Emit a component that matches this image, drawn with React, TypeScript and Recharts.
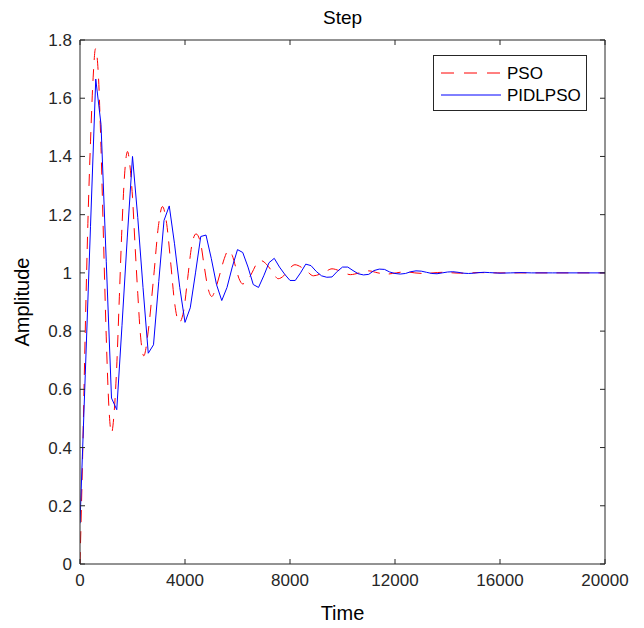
import React from 'react'
import { Label, Legend, Line, LineChart, XAxis, YAxis } from 'recharts'

// PIDLPSO step response (solid blue)
const pidTime = [
  0, 200, 400, 600, 800, 1000, 1200, 1400, 1600, 1800, 2000, 2200, 2400, 2600, 2800, 3000, 3200,
  3400, 3600, 3800, 4000, 4200, 4400, 4600, 4800, 5000, 5200, 5400, 5600, 5800, 6000, 6200, 6400,
  6600, 6800, 7000, 7200, 7400, 7600, 7800, 8000, 8200, 8400, 8600, 8800, 9000, 9200, 9400, 9600,
  9800, 10000, 10200, 10400, 10600, 10800, 11000, 11200, 11400, 11600, 11800, 12000, 12200, 12400,
  12600, 12800, 13000, 13200, 13400, 13600, 13800, 14000, 14200, 14400, 14600, 14800, 15000, 15200,
  15400, 15600, 15800, 16000, 16400, 16800, 17200, 18000, 20000,
]
const pidAmp = [
  0.14, 0.65, 1.16, 1.666, 1.51, 1.04, 0.57, 0.53, 0.82, 1.12, 1.4, 1.19, 0.95, 0.724, 0.753, 0.97, 1.18,
  1.23, 1.1, 0.95, 0.83, 0.88, 1.0, 1.125, 1.13, 1.05, 0.96, 0.905, 0.95, 1.02, 1.08, 1.07, 1.02,
  0.96, 0.95, 0.99, 1.035, 1.05, 1.02, 0.995, 0.974, 0.974, 1.0, 1.03, 1.025, 1.005, 0.99, 0.985, 0.986,
  1.005, 1.02, 1.02, 1.008, 0.997, 0.993, 0.995, 1.008, 1.013, 1.012, 1.003, 0.998, 0.996, 0.998,
  1.004, 1.007, 1.006, 1.002, 0.998, 0.997, 1.0, 1.003, 1.004, 1.002, 0.999, 0.998, 0.999, 1.001,
  1.002, 1.001, 1.0, 0.999, 1.0, 1.001, 1.0, 1.0, 1.0,
]

// PSO step response (dashed red)
const psoTime = [
  0, 100, 200, 300, 400, 500, 590, 700, 800, 900, 1000, 1100, 1200, 1300, 1400, 1500, 1600, 1700,
  1810, 1900, 2000, 2100, 2200, 2300, 2430, 2600, 2800, 3000, 3140, 3300, 3460, 3600, 3780, 3950,
  4100, 4250, 4420, 4600, 4720, 4870, 5020, 5180, 5340, 5500, 5650, 5800, 5930, 6060, 6200, 6380,
  6550, 6720, 6900, 7100, 7320, 7550, 7760, 7980, 8190, 8420, 8650, 8890, 9120, 9360, 9600, 9950,
  10300, 10650, 11000, 11350, 11700, 12050, 12400, 12750, 13100, 13450, 13800, 14500, 15200, 15900,
  17000, 20000,
]
const psoAmp = [
  0, 0.37, 0.8, 1.17, 1.45, 1.67, 1.77, 1.68, 1.43, 1.1, 0.78, 0.54, 0.45, 0.52, 0.68, 0.92, 1.16, 1.34,
  1.417, 1.37, 1.26, 1.09, 0.93, 0.79, 0.715, 0.8, 0.98, 1.17, 1.228, 1.17, 1.03, 0.9, 0.83, 0.87,
  0.98, 1.09, 1.134, 1.1, 1.03, 0.95, 0.919, 0.95, 1.0, 1.05, 1.077, 1.06, 1.02, 0.98, 0.962, 0.975,
  1.0, 1.03, 1.042, 1.03, 1.005, 0.98, 0.99, 1.015, 1.028, 1.02, 1.005, 0.99, 0.995, 1.005, 1.014, 1.005,
  0.994, 1.0, 1.007, 1.0, 0.996, 1.0, 1.004, 1.0, 0.998, 1.0, 1.002, 0.999, 1.001, 1.0,
  1.0, 1.0,
]

const xTicks = [0, 4000, 8000, 12000, 16000, 20000]
const yTicks = [0, 0.2, 0.4, 0.6, 0.8, 1, 1.2, 1.4, 1.6, 1.8]
const seriesNames = ['PSO', 'PIDLPSO']

const FONT = '"Liberation Sans", Arial, Helvetica, sans-serif'
const INK = '#262626'
const W = 644
const H = 628
const TOP = 40
const RIGHT = 39
const LEFT = 40 // plus the 40px y axis
const BOTTOM = 34 // plus the 30px x axis
const plotTop = TOP
const plotBottom = H - BOTTOM - 30
const plotLeft = LEFT + 40
const plotRight = W - RIGHT
const TICK = 5

const pso = psoTime.map((t, i) => ({ t, y: psoAmp[i] }))
const pid = pidTime.map((t, i) => ({ t, y: pidAmp[i] }))

const fmtY = (v: number) => String(Number(v.toFixed(1)))

// tick label plus the inward tick marks on both sides of the box
function XTick(p: any) {
  return (
    <g>
      <line x1={p.x} x2={p.x} y1={plotBottom} y2={plotBottom - TICK} stroke={INK} />
      <line x1={p.x} x2={p.x} y1={plotTop} y2={plotTop + TICK} stroke={INK} />
      <text x={p.x} y={plotBottom + 22} textAnchor="middle" fill={INK} fontSize={17} fontFamily={FONT}>
        {p.payload.value}
      </text>
    </g>
  )
}

function YTick(p: any) {
  return (
    <g>
      <line x1={plotLeft} x2={plotLeft + TICK} y1={p.y} y2={p.y} stroke={INK} />
      <line x1={plotRight} x2={plotRight - TICK} y1={p.y} y2={p.y} stroke={INK} />
      <text x={plotLeft - 8} y={p.y + 6} textAnchor="end" fill={INK} fontSize={17} fontFamily={FONT}>
        {fmtY(p.payload.value)}
      </text>
    </g>
  )
}

function LegendBox() {
  return (
    <div
      style={{
        width: 152,
        height: 54,
        border: `1px solid ${INK}`,
        background: '#fff',
        fontFamily: FONT,
        fontSize: 17,
        color: '#000',
      }}
    >
      <svg width={152} height={54}>
        <line x1={7} x2={67} y1={17} y2={17} stroke="#ff0000" strokeDasharray="13 10" />
        <text x={73} y={23}>{seriesNames[0]}</text>
        <line x1={7} x2={67} y1={39} y2={39} stroke="#0000ff" />
        <text x={73} y={45}>{seriesNames[1]}</text>
      </svg>
    </div>
  )
}

export default function App() {
  return (
    <div style={{ position: 'absolute', left: 0, top: 0, background: '#fff' }}>
      <LineChart width={W} height={H} margin={{ top: TOP, right: RIGHT, bottom: BOTTOM, left: LEFT }}>
        <XAxis
          xAxisId="b"
          dataKey="t"
          type="number"
          domain={[0, 20000]}
          ticks={xTicks}
          allowDataOverflow
          height={30}
          tickLine={false}
          stroke={INK}
          tick={XTick}
        >
          <Label
            content={({ viewBox }: any) => (
              <g>
                <text
                  x={viewBox.x + viewBox.width / 2}
                  y={plotBottom + 56}
                  textAnchor="middle"
                  fontSize={20}
                  fontFamily={FONT}
                  fill="#000"
                >
                  Time
                </text>
                <text
                  x={viewBox.x + viewBox.width / 2}
                  y={plotTop - 16}
                  textAnchor="middle"
                  fontSize={19}
                  fontFamily={FONT}
                  fill="#000"
                >
                  Step
                </text>
              </g>
            )}
          />
        </XAxis>
        <XAxis
          xAxisId="top"
          type="number"
          domain={[0, 20000]}
          orientation="top"
          mirror
          tickLine={false}
          tick={false}
          stroke={INK}
        />
        <YAxis
          yAxisId="l"
          type="number"
          domain={[0, 1.8]}
          ticks={yTicks}
          allowDataOverflow
          width={40}
          tickLine={false}
          stroke={INK}
          tick={YTick}
        >
          <Label
            content={({ viewBox }: any) => {
              const cx = plotLeft - 58
              const cy = viewBox.y + viewBox.height / 2
              return (
                <text
                  x={cx}
                  y={cy}
                  transform={`rotate(-90 ${cx} ${cy})`}
                  textAnchor="middle"
                  dominantBaseline="central"
                  fontSize={20}
                  fontFamily={FONT}
                  fill="#000"
                >
                  Amplitude
                </text>
              )
            }}
          />
        </YAxis>
        <YAxis
          yAxisId="r"
          type="number"
          domain={[0, 1.8]}
          orientation="right"
          mirror
          tickLine={false}
          tick={false}
          stroke={INK}
        />
        <Legend
          layout="horizontal"
          align="center"
          verticalAlign="middle"
          wrapperStyle={{ position: 'absolute', left: 433, top: 55, width: 154, height: 56 }}
          content={() => <LegendBox />}
        />
        <Line
          xAxisId="b"
          yAxisId="l"
          data={pso}
          dataKey="y"
          name={seriesNames[0]}
          type="monotone"
          stroke="#ff0000"
          strokeWidth={1}
          strokeDasharray="12 9"
          dot={false}
          isAnimationActive={false}
        />
        <Line
          xAxisId="b"
          yAxisId="l"
          data={pid}
          dataKey="y"
          name={seriesNames[1]}
          type="linear"
          stroke="#0000ff"
          strokeWidth={1}
          dot={false}
          isAnimationActive={false}
        />
      </LineChart>
    </div>
  )
}
